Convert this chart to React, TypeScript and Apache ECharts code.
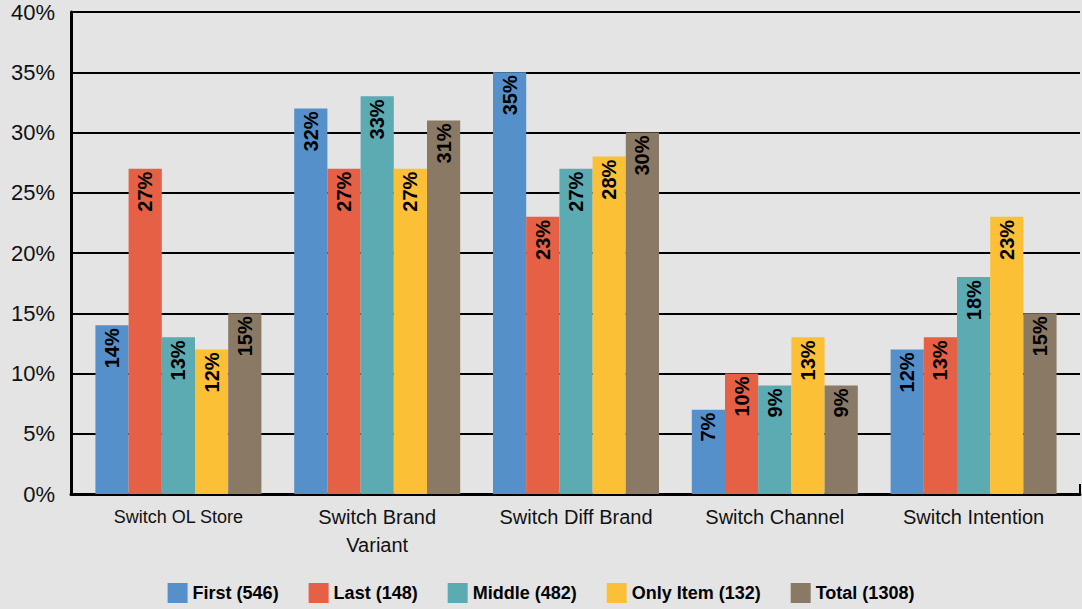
import React, { useEffect, useRef } from "react";
import * as echarts from "echarts";

const categories = [
  "Switch OL Store",
  "Switch Brand\nVariant",
  "Switch Diff Brand",
  "Switch Channel",
  "Switch Intention",
];

const seriesNames = [
  "First (546)",
  "Last (148)",
  "Middle (482)",
  "Only Item (132)",
  "Total (1308)",
];

const first = [14, 32, 35, 7, 12];
const last = [27, 27, 23, 10, 13];
const middle = [13, 33, 27, 9, 18];
const onlyItem = [12, 27, 28, 13, 23];
const total = [15, 31, 30, 9, 15];

const yTicks = { min: 0, max: 40, interval: 5 };

const colors = ["#5690CB", "#E56044", "#5CAAB2", "#FBC036", "#8A7964"];

const font = "Liberation Sans, Arial, sans-serif";

export default function App() {
  const ref = useRef<HTMLDivElement>(null);

  useEffect(() => {
    document.body.style.margin = "0";
    if (!ref.current) return;
    const chart = echarts.init(ref.current, null, { renderer: "svg" });
    const values = [first, last, middle, onlyItem, total];

    chart.setOption({
      animation: false,
      backgroundColor: "#E4E4E4",
      color: colors,
      textStyle: { fontFamily: font },
      grid: [
        { left: 71, right: 2, top: 12, bottom: 115 },
        { left: 79, right: 9, top: 12, bottom: 115 },
      ],
      legend: {
        data: seriesNames,
        bottom: 6,
        left: "center",
        padding: 0,
        icon: "rect",
        itemWidth: 20,
        itemHeight: 20,
        itemGap: 30,
        textStyle: {
          fontFamily: font,
          fontWeight: "bold",
          fontSize: 18,
          color: "#000",
        },
      },
      xAxis: [
        {
          gridIndex: 0,
          type: "category",
          data: [""],
          axisLine: { show: true, lineStyle: { color: "#000", width: 3 } },
          axisTick: { show: true, inside: true, length: 10, lineStyle: { color: "#000", width: 2 } },
          axisLabel: { show: false },
          splitLine: { show: false },
        },
        {
          gridIndex: 1,
          type: "category",
          data: categories.map((c, i) =>
            i === 0 ? { value: c, textStyle: { fontSize: 18 } } : c
          ),
          axisLine: { show: false },
          axisTick: { show: false },
          axisLabel: {
            margin: 9,
            color: "#111",
            fontFamily: font,
            fontSize: 20,
            lineHeight: 28,
            interval: 0,
          },
        },
      ],
      yAxis: [
        {
          gridIndex: 0,
          type: "value",
          min: yTicks.min,
          max: yTicks.max,
          interval: yTicks.interval,
          axisLine: { show: true, lineStyle: { color: "#000", width: 3 } },
          axisTick: { show: false },
          axisLabel: {
            formatter: "{value}%",
            margin: 16,
            color: "#111",
            fontFamily: font,
            fontSize: 22,
          },
          splitLine: { show: true, lineStyle: { color: "#000", width: 2 } },
        },
        {
          gridIndex: 1,
          type: "value",
          min: yTicks.min,
          max: yTicks.max,
          interval: yTicks.interval,
          show: false,
          splitLine: { show: false },
        },
      ],
      series: seriesNames.map((name, i) => ({
        name,
        type: "bar",
        xAxisIndex: 1,
        yAxisIndex: 1,
        data: values[i],
        barWidth: 33.2,
        barGap: "0%",
        itemStyle: { color: colors[i] },
        label: {
          show: true,
          position: "insideTop",
          distance: 3,
          rotate: 90,
          align: "right",
          verticalAlign: "middle",
          formatter: "{c}%",
          color: "#000",
          fontFamily: font,
          fontWeight: "bold",
          fontSize: 20,
        },
      })),
    });

    return () => chart.dispose();
  }, []);

  return <div ref={ref} style={{ width: 1082, height: 609 }} />;
}
